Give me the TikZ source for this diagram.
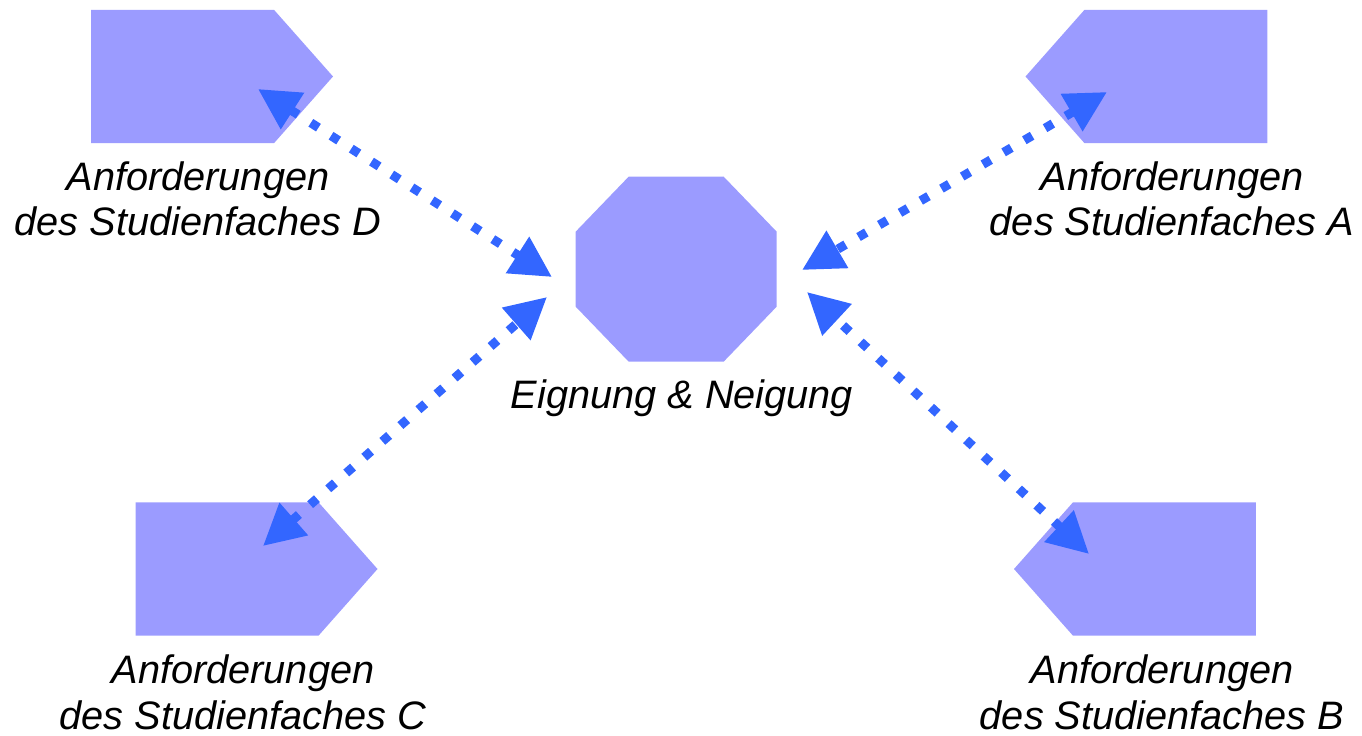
\documentclass[tikz,border=0pt]{standalone}
\usepackage{fontspec}
\setmainfont{Liberation Sans}
\usetikzlibrary{shapes,shapes.symbols,arrows.meta,positioning,calc}
\definecolor{facfill}{HTML}{9B9BFF}
\definecolor{linkblue}{HTML}{3366FF}
\tikzset{
  fach/.style={signal, fill=facfill, draw=none, inner sep=0pt,
    minimum width=4.84cm, minimum height=2.67cm, signal pointer angle=97},
  kern/.style={rectangle, draw=none, inner sep=0pt,
    minimum width=4.02cm, minimum height=3.7cm},
  lab/.style={align=center, anchor=base, inner sep=0pt,
    font=\itshape\fontsize{22.6}{26}\selectfont},
  link/.style={draw=linkblue, line width=0.18cm, dash pattern=on 0.18cm off 0.30cm,
    {Triangle[length=0.82cm,width=0.82cm]}-{Triangle[length=0.82cm,width=0.82cm]}},
}

\begin{document}
\begin{tikzpicture}[x=0.02cm, y=-0.02cm]
    \useasboundingbox (0,0) rectangle (1362,736);

    % Studienfaecher und Kern
    \node[fach, signal to=east] (facD) at (182.5,76.5) {};
    \node[fach, signal to=west] (facA) at (1176,76.5) {};
    \node[fach, signal to=east] (facC) at (227,569) {};
    \node[fach, signal to=west] (facB) at (1164.5,569) {};
    \node[kern] (kern) at (676.5,269.5) {};
    \fill[facfill] (kern.north west) ++(53,0) -- ++(95,0) -- ++(53,55) -- ++(0,75)
        -- ++(-53,55) -- ++(-95,0) -- ++(-53,-55) -- ++(0,-75) -- cycle;

    % Beschriftungen
    \node[lab] (labD) at (198,236) {Anforderungen\\des Studienfaches D};
    \node[lab] (labA) at (1172,236) {Anforderungen\\des Studienfaches A};
    \node[lab] (labC) at (243,729) {Anforderungen\\des Studienfaches C};
    \node[lab] (labB) at (1162,729) {Anforderungen\\des Studienfaches B};
    \node[lab] (labK) at (682,408) {Eignung \& Neigung};

    % Pfeilenden
    \coordinate (endD) at (258,89);
    \coordinate (endA) at (1107,92);
    \coordinate (endC) at (263,546);
    \coordinate (endB) at (1089,554);
    \coordinate (kernD) at (552,277);
    \coordinate (kernA) at (802,270);
    \coordinate (kernC) at (547,297);
    \coordinate (kernB) at (807,292);

    \draw[link] (endD) -- (kernD);
    \draw[link] (endA) -- (kernA);
    \draw[link] (endC) -- (kernC);
    \draw[link] (endB) -- (kernB);
\end{tikzpicture}
\end{document}
